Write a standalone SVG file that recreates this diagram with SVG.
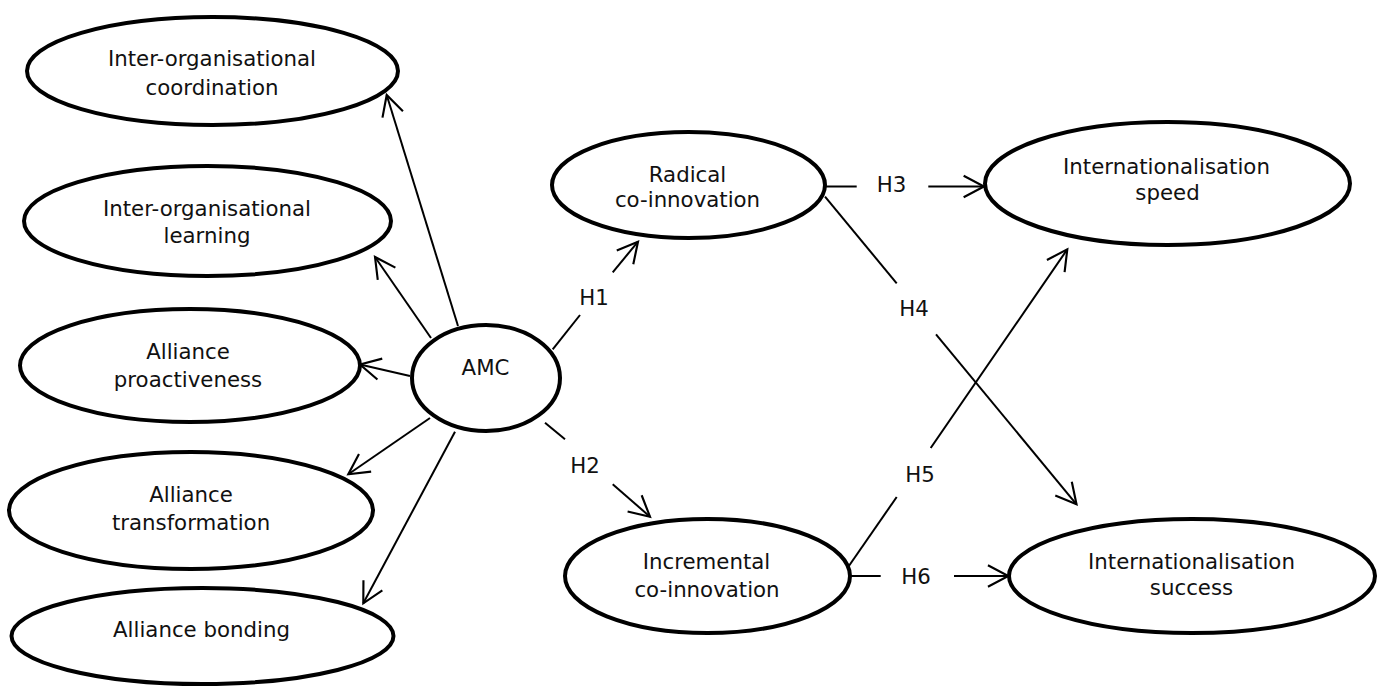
<svg xmlns="http://www.w3.org/2000/svg" width="1387" height="687" viewBox="0 0 1387 687">
<defs>
<style>
.node ellipse{fill:#fff;stroke:#000;stroke-width:4}
text{font-family:"DejaVu Sans",Verdana,sans-serif;font-size:21.3px;fill:#111;text-anchor:middle}
.conn line{stroke:#000;stroke-width:2;fill:none}
</style>
<marker id="arr" markerUnits="userSpaceOnUse" markerWidth="30" markerHeight="30" viewBox="-22 -14 26 28" refX="0" refY="0" orient="auto">
<path d="M-19,-10 L0,0 L-19,10" fill="none" stroke="#000" stroke-width="2"/>
</marker>
</defs>
<rect width="1387" height="687" fill="#fff"/>
<g id="connectors" class="conn">
<line x1="458" y1="326" x2="386.7" y2="95" marker-end="url(#arr)"/>
<line x1="431" y1="338" x2="375" y2="257" marker-end="url(#arr)"/>
<line x1="410" y1="376" x2="360" y2="364.5" marker-end="url(#arr)"/>
<line x1="430" y1="418" x2="348.3" y2="474.3" marker-end="url(#arr)"/>
<line x1="455" y1="431.7" x2="363.3" y2="603.3" marker-end="url(#arr)"/>
<line x1="552.7" y1="349.3" x2="580" y2="315"/>
<line x1="612.7" y1="272.3" x2="638" y2="241.7" marker-end="url(#arr)"/>
<line x1="545" y1="422.7" x2="565" y2="439.3"/>
<line x1="612.7" y1="484.3" x2="650" y2="516.7" marker-end="url(#arr)"/>
<line x1="825" y1="186.5" x2="856.7" y2="186.5"/>
<line x1="928.3" y1="186.5" x2="984" y2="186.5" marker-end="url(#arr)"/>
<line x1="825" y1="196.7" x2="896.7" y2="283.3"/>
<line x1="936" y1="334.3" x2="1076.5" y2="504.3" marker-end="url(#arr)"/>
<line x1="847.3" y1="568.3" x2="896.7" y2="497"/>
<line x1="930.7" y1="448" x2="1067.3" y2="249.3" marker-end="url(#arr)"/>
<line x1="847.3" y1="576" x2="880.7" y2="576"/>
<line x1="954" y1="576" x2="1008.3" y2="576" marker-end="url(#arr)"/>
<text x="594" y="305">H1</text>
<text x="585" y="473">H2</text>
<text x="891.5" y="191.7">H3</text>
<text x="914" y="315.7">H4</text>
<text x="920" y="482.3">H5</text>
<text x="916" y="584">H6</text>
</g>
<g id="coordination" class="node">
<ellipse cx="212.5" cy="71" rx="185.5" ry="54"/>
<text x="212" y="65.7">Inter-organisational</text>
<text x="212" y="94.5">coordination</text>
</g>
<g id="learning" class="node">
<ellipse cx="207.5" cy="221" rx="183.5" ry="55"/>
<text x="207" y="216">Inter-organisational</text>
<text x="207" y="243.3">learning</text>
</g>
<g id="proactiveness" class="node">
<ellipse cx="190" cy="365.5" rx="170" ry="56.5"/>
<text x="188" y="359">Alliance</text>
<text x="188" y="386.7">proactiveness</text>
</g>
<g id="transformation" class="node">
<ellipse cx="191" cy="510.5" rx="182" ry="58.5"/>
<text x="191" y="502.3">Alliance</text>
<text x="191" y="530">transformation</text>
</g>
<g id="bonding" class="node">
<ellipse cx="202.5" cy="636" rx="191" ry="48"/>
<text x="201.5" y="636.7">Alliance bonding</text>
</g>
<g id="amc" class="node">
<ellipse cx="486" cy="378" rx="74" ry="53"/>
<text x="485.5" y="375">AMC</text>
</g>
<g id="radical" class="node">
<ellipse cx="688.5" cy="185" rx="136.5" ry="53"/>
<text x="687.5" y="181.7">Radical</text>
<text x="687.5" y="206.7">co-innovation</text>
</g>
<g id="incremental" class="node">
<ellipse cx="707.5" cy="576" rx="142.5" ry="57"/>
<text x="706.5" y="569">Incremental</text>
<text x="707" y="596.7">co-innovation</text>
</g>
<g id="speed" class="node">
<ellipse cx="1167.5" cy="183.5" rx="182.5" ry="61.5"/>
<text x="1166.5" y="174.3">Internationalisation</text>
<text x="1167.5" y="200">speed</text>
</g>
<g id="success" class="node">
<ellipse cx="1192" cy="576" rx="183" ry="57"/>
<text x="1191.5" y="569">Internationalisation</text>
<text x="1191.5" y="595">success</text>
</g>
</svg>
